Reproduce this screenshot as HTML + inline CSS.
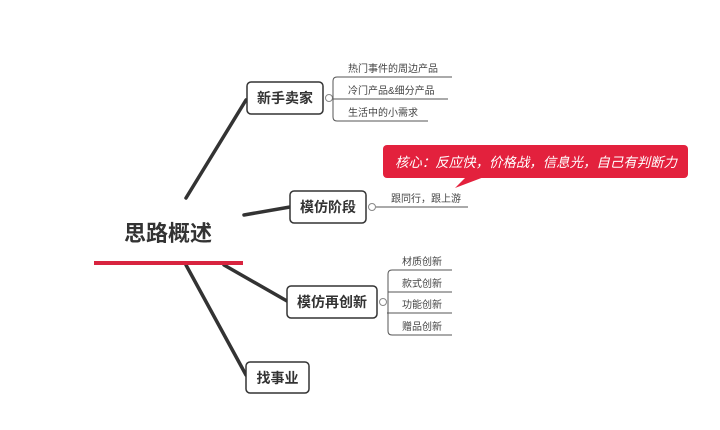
<!DOCTYPE html>
<html><head><meta charset="utf-8"><style>
body{margin:0;background:#fff;width:720px;height:425px;overflow:hidden}
text{font-family:"Liberation Sans","Noto Sans CJK SC",sans-serif}
</style></head><body>
<svg width="720" height="425" viewBox="0 0 720 425" xmlns="http://www.w3.org/2000/svg">
<g stroke="#333" stroke-linecap="round" fill="none">
<line x1="186" y1="198" x2="246" y2="100" stroke-width="3.5"/>
<line x1="244" y1="215" x2="290" y2="207" stroke-width="3.5"/>
<line x1="224" y1="265" x2="287" y2="301" stroke-width="3.5"/>
<line x1="186" y1="265" x2="246" y2="375" stroke-width="3.5"/>
</g>
<text x="168" y="241" text-anchor="middle" font-size="22" font-weight="bold" fill="#333">思路概述</text>
<rect x="94" y="261" width="149" height="4" fill="#d8243f"/>
<g fill="#fff" stroke="#333" stroke-width="1.5">
<rect x="247" y="82" width="76" height="32" rx="4"/>
<rect x="290" y="191" width="76" height="32" rx="4"/>
<rect x="287" y="286" width="90" height="32" rx="4"/>
<rect x="246" y="362" width="63" height="31" rx="4"/>
</g>
<g font-size="14" font-weight="bold" fill="#333" text-anchor="middle">
<text x="285" y="103">新手卖家</text>
<text x="328" y="212">模仿阶段</text>
<text x="332" y="307">模仿再创新</text>
<text x="277.5" y="383">找事业</text>
</g>
<g fill="#fff" stroke="#888" stroke-width="1">
<circle cx="329" cy="98" r="3.5"/>
<circle cx="372" cy="207" r="3.5"/>
<circle cx="383" cy="302" r="3.5"/>
</g>
<g stroke="#555" stroke-width="1" fill="none">
<path d="M333 98 V81 Q333 77 337 77 H452"/>
<line x1="333" y1="99" x2="448" y2="99"/>
<path d="M333 98 V117 Q333 121 337 121 H428"/>
<line x1="376" y1="207" x2="468" y2="207"/>
<path d="M388 302 V274 Q388 270 392 270 H452"/>
<line x1="388" y1="292" x2="452" y2="292"/>
<line x1="387" y1="313" x2="452" y2="313"/>
<path d="M388 302 V331 Q388 335 392 335 H452"/>
</g>
<g font-size="10" fill="#444">
<text x="348" y="72">热门事件的周边产品</text>
<text x="348" y="94">冷门产品&amp;细分产品</text>
<text x="348" y="116">生活中的小需求</text>
<text x="391" y="202">跟同行，跟上游</text>
<text x="402" y="265">材质创新</text>
<text x="402" y="287">款式创新</text>
<text x="402" y="308">功能创新</text>
<text x="402" y="330">赠品创新</text>
</g>
<rect x="383" y="145" width="305" height="33" rx="4" fill="#e3213d"/>
<polygon points="466,177 484,177 455,188" fill="#e3213d"/>
<text x="395" y="167" font-size="13.5" font-style="italic" fill="#fff" textLength="282" lengthAdjust="spacingAndGlyphs">核心：反应快，价格战，信息光，自己有判断力</text>
</svg>
</body></html>
